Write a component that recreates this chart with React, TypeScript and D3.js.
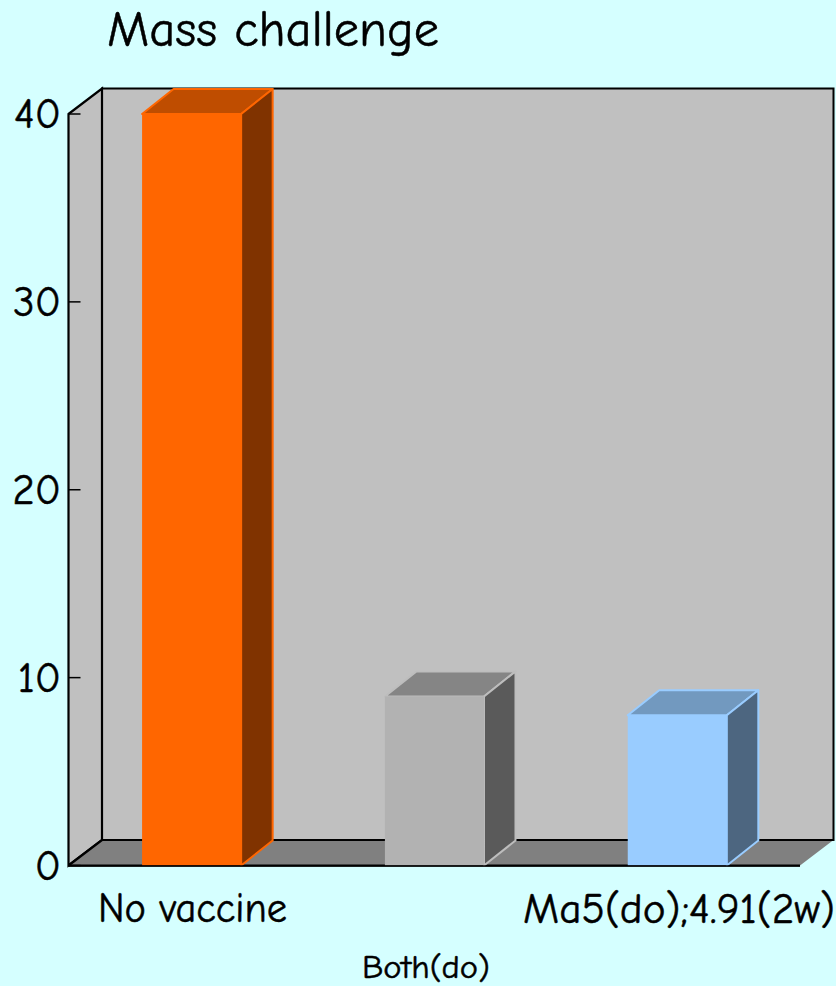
import React from "react";
import * as d3 from "d3";

const categories = ["No vaccine", "Both(do)", "Ma5(do);4.91(2w)"];
const values = [40, 9, 8];
const yTicks = [0, 10, 20, 30, 40];
const frontColors = ["#FF6600", "#B2B2B2", "#99CCFF"];
const topColors = ["#BF4D00", "#858585", "#7299BF"];
const sideColors = ["#803300", "#5A5A5A", "#4D6680"];
const edgeColors = ["#FF6600", "#BDBDBD", "#99CCFF"];

const WIDTH = 836;
const HEIGHT = 986;
const FONT = "'Comic Sans MS', 'Comic Neue', Lato, 'Open Sans', sans-serif";
const DEPTH_X = 33.5;
const DEPTH_Y = -25.5;
const BAR_DEPTH_X = 31.5;
const BAR_DEPTH_Y = -25;
const TEXT_WEIGHT = 0.5;

const y = d3.scaleLinear().domain([0, 40]).range([865.5, 114]);
const x = d3.scaleBand<string>().domain(categories).range([70.2, 798.7]).paddingInner(0.592).paddingOuter(0.296);

const poly = (pts: [number, number][]) => (d3.line()(pts) ?? "") + "Z";

export default function App() {
  const floorY = y(0);
  const topY = y(40);
  const left = 68.5;
  const right = 800;
  const backLeft = left + DEPTH_X;
  const backRight = right + DEPTH_X;
  const backTop = topY + DEPTH_Y;
  const backFloor = floorY + DEPTH_Y;

  return (
    <svg
      width={WIDTH}
      height={HEIGHT}
      viewBox={`0 0 ${WIDTH} ${HEIGHT}`}
      style={{ position: "fixed", left: 0, top: 0, display: "block", background: "#D5FFFF" }}
      fontFamily={FONT}
      fill="#000"
    >
      {/* back wall, side wall and floor of the 3D frame */}
      <rect x={backLeft} y={backTop} width={backRight - backLeft} height={backFloor - backTop} fill="#C0C0C0" stroke="#000" strokeWidth={2} />
      <path
        d={poly([[left, topY], [backLeft, backTop], [backLeft, backFloor], [left, floorY]])}
        fill="#C0C0C0"
        stroke="#000"
        strokeWidth={2.2}
      />
      <path
        d={poly([[left, floorY], [backLeft, backFloor], [backRight, backFloor], [right, floorY]])}
        fill="#808080"
        stroke="none"
      />
      <path d={`M${left},${floorY}L${backLeft},${backFloor}H${backRight}`} fill="none" stroke="#000" strokeWidth={2.2} />
      <path d={`M${left},${floorY}H${right}`} fill="none" stroke="#000" strokeWidth={2} />

      {/* value axis */}
      {yTicks.map((t) => (
        <g key={t}>
          <line x1={left} x2={left + 12} y1={y(t)} y2={y(t)} stroke="#000" strokeWidth={1.5} />
          <text x={61} y={y(t) + 14} fontSize={43} textAnchor="end" stroke="#000" strokeWidth={TEXT_WEIGHT}>
            {t}
          </text>
        </g>
      ))}

      {/* extruded bars */}
      {categories.map((c, i) => {
        const x0 = x(c) as number;
        const x1 = x0 + x.bandwidth();
        const yTop = y(values[i]);
        return (
          <g key={c} stroke={edgeColors[i]} strokeWidth={2} strokeLinejoin="round">
            <path d={poly([[x0, yTop], [x0 + BAR_DEPTH_X, yTop + BAR_DEPTH_Y], [x1 + BAR_DEPTH_X, yTop + BAR_DEPTH_Y], [x1, yTop]])} fill={topColors[i]} />
            <path d={poly([[x1, yTop], [x1 + BAR_DEPTH_X, yTop + BAR_DEPTH_Y], [x1 + BAR_DEPTH_X, floorY + BAR_DEPTH_Y], [x1, floorY]])} fill={sideColors[i]} />
            <rect x={x0} y={yTop} width={x.bandwidth()} height={floorY - yTop} fill={frontColors[i]} stroke="none" />
          </g>
        );
      })}

      {/* front baseline over the bars */}
      <path d={`M${left},${floorY + 0.5}H${right}`} fill="none" stroke="#000" strokeWidth={1.5} />

      {/* title and category labels */}
      <g stroke="#000" strokeWidth={TEXT_WEIGHT}>
        <text x={107} y={46} fontSize={50} textLength={332} lengthAdjust="spacingAndGlyphs">
          Mass challenge
        </text>
        <text x={98} y={922} fontSize={42} textLength={189} lengthAdjust="spacingAndGlyphs">
          {categories[0]}
        </text>
        <text x={362} y={978} fontSize={33} textLength={128} lengthAdjust="spacingAndGlyphs">
          {categories[1]}
        </text>
        <text x={523} y={923} fontSize={42} textLength={312} lengthAdjust="spacingAndGlyphs">
          {categories[2]}
        </text>
      </g>
    </svg>
  );
}
